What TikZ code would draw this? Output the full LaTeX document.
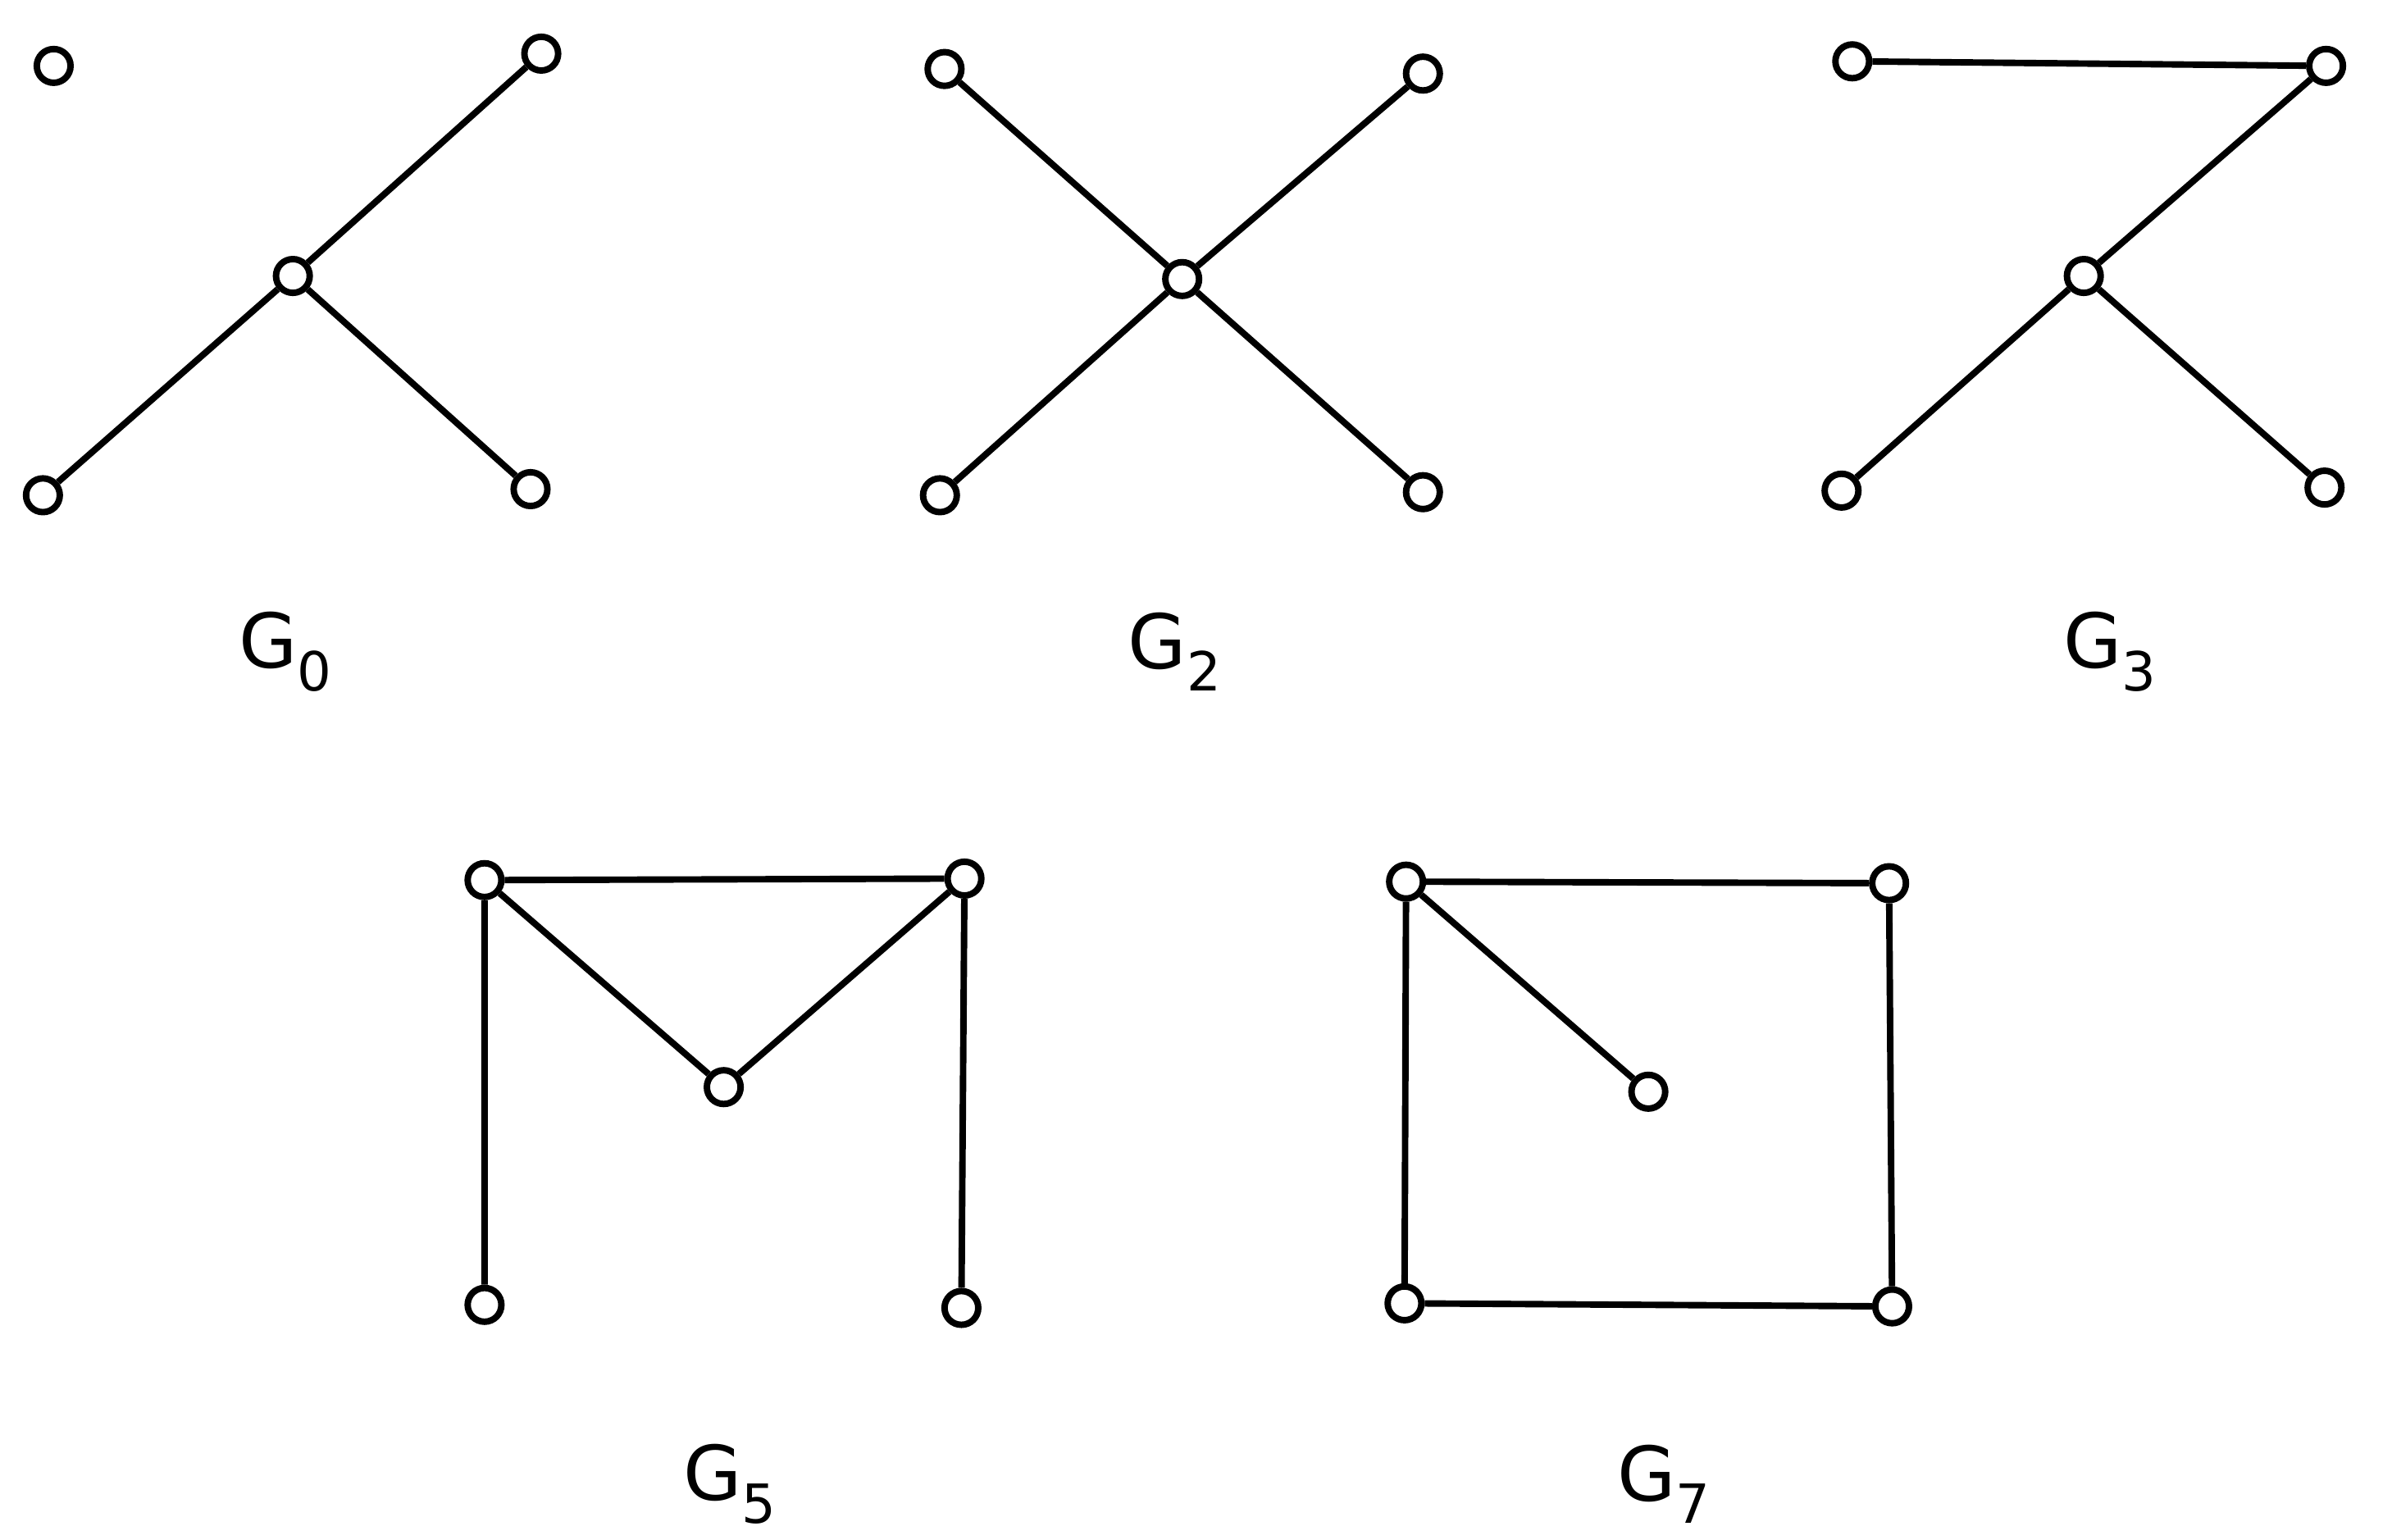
\documentclass[tikz,border=0pt]{standalone}
\usepackage{fontspec}
\setmainfont{DejaVu Sans}
\begin{document}
\begin{tikzpicture}[x=0.01cm,y=-0.01cm,
 vtx/.style={circle,draw,line width=1.2pt,fill=white,minimum size=0.22cm,inner sep=0pt},
 edge/.style={line width=1.2pt},
 lbl/.style={font=\fontsize{14}{16}\selectfont}]
\useasboundingbox (0,0) rectangle (1560,1004);
\newcommand{\gl}[2]{G\raisebox{-0.3em}{\fontsize{10}{12}\selectfont #2}}
% G0
\node[vtx] (a1) at (35,43) {};
\node[vtx] (a2) at (353,35) {};
\node[vtx] (a3) at (191,180) {};
\node[vtx] (a4) at (28,323) {};
\node[vtx] (a5) at (346,319) {};
\draw[edge] (a3)--(a2) (a3)--(a4) (a3)--(a5);
\node[lbl] (l0) at (186,425) {\gl{}{0}};
% G2
\node[vtx] (b1) at (616,45) {};
\node[vtx] (b2) at (928,48) {};
\node[vtx] (b3) at (771,182) {};
\node[vtx] (b4) at (613,323) {};
\node[vtx] (b5) at (928,321) {};
\draw[edge] (b3)--(b1) (b3)--(b2) (b3)--(b4) (b3)--(b5);
\node[lbl] (l2) at (766,425) {\gl{}{2}};
% G3
\node[vtx] (c1) at (1208,40) {};
\node[vtx] (c2) at (1517,43) {};
\node[vtx] (c3) at (1359,180) {};
\node[vtx] (c4) at (1201,320) {};
\node[vtx] (c5) at (1516,318) {};
\draw[edge] (c1)--(c2) (c3)--(c2) (c3)--(c4) (c3)--(c5);
\node[lbl] (l3) at (1376,425) {\gl{}{3}};
% G5
\node[vtx] (d1) at (316,574) {};
\node[vtx] (d2) at (629,573) {};
\node[vtx] (d3) at (472,709) {};
\node[vtx] (d4) at (316,851) {};
\node[vtx] (d5) at (627,853) {};
\draw[edge] (d1)--(d2) (d1)--(d3) (d2)--(d3) (d1)--(d4) (d2)--(d5);
\node[lbl] (l5) at (476,968) {\gl{}{5}};
% G7
\node[vtx] (e1) at (917,575) {};
\node[vtx] (e2) at (1232,576) {};
\node[vtx] (e3) at (1075,712) {};
\node[vtx] (e4) at (916,850) {};
\node[vtx] (e5) at (1234,852) {};
\draw[edge] (e1)--(e2) (e1)--(e3) (e1)--(e4) (e2)--(e5) (e4)--(e5);
\node[lbl] (l7) at (1085,968) {\gl{}{7}};
\end{tikzpicture}
\end{document}
